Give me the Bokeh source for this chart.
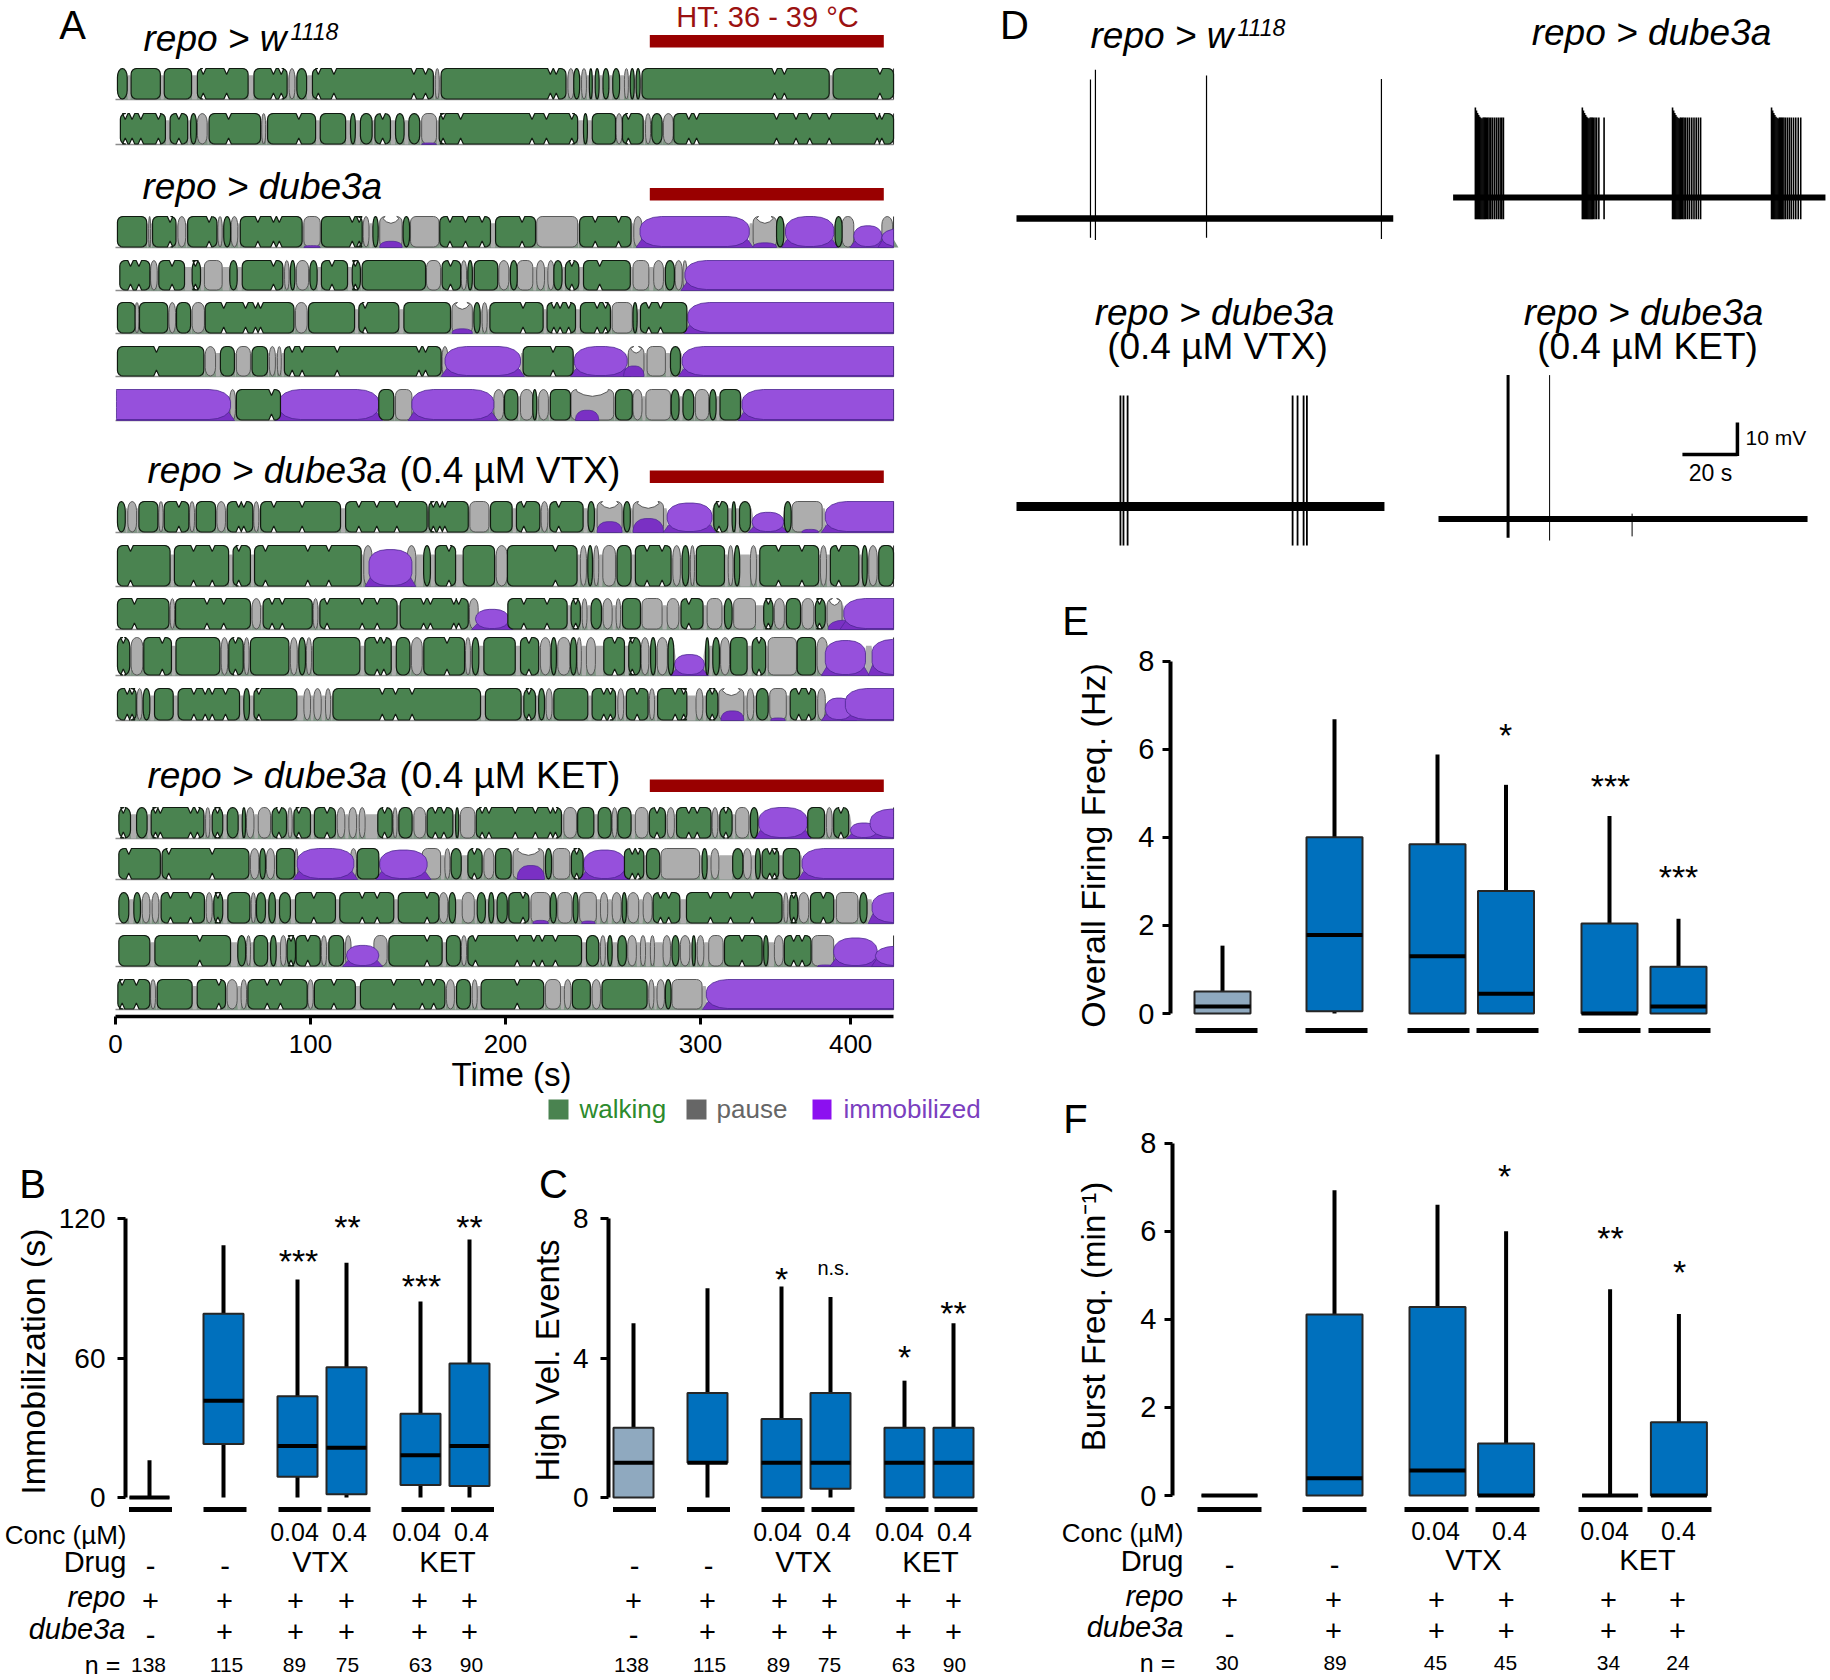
from math import pi, sin, cos
from bokeh.plotting import figure
from bokeh.layouts import row, column
from bokeh.models import Label, Range1d, FixedTicker, BoxAnnotation, LinearAxis
from bokeh.embed import file_html
from bokeh.resources import INLINE

FONT = "Liberation Sans"

# ---------------------------------------------------------------- panel A data (seconds)
# walking bouts: (start, end, [pinch times])
walk_01 = [(1,6,[]),(8,23,[]),(25,39,[]),(42,68,[45,57]),(71,88,[81,85]),(93,98,[]),(101,163,[104,112,153,159]),(167,231,[223,226]),(235,238,[]),(243,244.5,[]),(246,248,[]),(250,253,[]),(255,258.5,[]),(264,266,[]),(267,269,[]),(270,366,[338,343]),(368,399,[392])]
pause_01 = [(89,92),(164,166),(232,235),(239,241.5),(261,263)]
immob_01 = []
walk_02 = [(2.5,25.6,[5,8.5,13,22]),(28,37,[32.5]),(38.5,41.5,[]),(48,74.4,[58]),(78,102.6,[94]),(105,118,[]),(120.5,123,[]),(125.6,131.6,[]),(133,141,[137]),(143.6,148,[]),(150.4,156,[]),(166,237,[168,177,213.6,221,234]),(240,242,[]),(244.5,256.4,[]),(260,270.6,[263]),(275,280.3,[]),(286.3,399,[294,298,339,349,356,366,390.6,393])]
pause_02 = [(42,47),(75,77),(157,164.6),(256.7,259.8),(271.8,274.4),(281,286)]
immob_02 = [(157,164.6,0.05)]
walk_03 = [(1,16,[]),(19,31,[28]),(37,52,[48]),(55.5,59,[]),(64,95.7,[73,81,84]),(105.6,126.5,[121.4,125]),(132,134.7,[]),(147.5,150.8,[]),(166.3,192.3,[171.5,179.5,188]),(194.9,215.4,[208.5]),(238,264.4,[246,258]),(339,342.7,[]),(369,372.6,[])]
pause_03 = [(17,18),(32,36),(52.5,54.7),(59.3,62.7),(96.6,105),(127,130),(135.5,147),(151.3,165.9),(216,237),(265.8,270),(327,339),(372.6,378.6),(393,398.5)]
immob_03 = [(96.6,105,0.06),(135.5,147,0.2),(269,325,1),(327,339,0.15),(343.6,368.4,1),(378.6,393,0.7),(393,398.5,0.6)]
walk_04 = [(2.2,17.6,[7.7,12]),(22.2,35.4,[29]),(39.3,43.6,[41]),(58.6,62.4,[]),(65,85.8,[81]),(89.7,92,[]),(99.7,103.4,[]),(105.6,119,[111]),(121.4,125.6,[123]),(126.5,159,[]),(167.5,177,[171.8]),(180.7,183,[]),(184,196,[]),(202.5,206,[]),(224.8,229,[]),(230.7,237.6,[234]),(240,264,[248.3]),(282,286.6,[])]
pause_04 = [(18,21.4),(45.6,54.7),(86.7,89),(92.8,99),(159.5,166.7),(177.3,180),(196.6,201.7),(206,214),(216,220),(221.7,224.8),(265.4,273.5),(276,281),(287,290.6),(291,293)]
immob_04 = [(292,399,1)]
walk_05 = [(1,10,[]),(12.3,26.8,[]),(31.3,38.5,[]),(46,91.5,[55.5,66.7,71.8,74.4]),(99,122.6,[]),(124.8,145.3,[128]),(147.9,171.8,[]),(183.8,187,[]),(192,219.3,[209]),(221.3,235.9,[224.8,228,232.4]),(238.4,253.8,[247,251.3]),(265.4,267.5,[]),(269.2,293,[273.5,279.5])]
pause_05 = [(10,12),(27.4,30.8),(39.3,45.6),(92.3,98.3),(172.6,183),(188,190.6),(254.7,265)]
immob_05 = [(172.6,183,0.15),(293.5,399,1)]
walk_06 = [(1,45.3,[21]),(53.8,61,[]),(70,78,[]),(86.6,167,[90.6,95.7,113.7,155.6,159]),(209,234.7,[224.4]),(284.6,289.7,[])]
pause_06 = [(46,51.3),(62,69.2),(78.9,82),(83,85),(167.5,170.4),(263,271),(272.6,282)]
immob_06 = [(169,207.7,1),(235.3,262.4,1),(260.6,271,0.35),(290.6,399,1)]
walk_07 = [(62,84.6,[80]),(135,142.7,[]),(199.5,206.3,[]),(214,216,[]),(223,233.3,[]),(256.4,265,[]),(285,289,[]),(291,296.5,[]),(304.7,308,[]),(310,320.5,[])]
pause_07 = [(58.6,61.5),(143.6,152),(194,199),(207.7,214),(217,222),(233.6,255.5),(265.4,270),(272,284.6),(297.4,304.2)]
immob_07 = [(1,59,1),(83.8,135,1),(152,194,1),(235.9,247.8,0.33),(321.3,399,1)]
walk_08 = [(1,5,[]),(12,21.7,[]),(25,37.6,[32.5]),(41.4,51.3,[]),(57.3,70.4,[63.2,65.8]),(74.4,115.4,[81.2,95.7]),(118,159.8,[124.8,134,144.3]),(160.7,180.9,[163,166.3,168.9]),(192.3,203.4,[]),(205.6,217.6,[209.4]),(222.7,239.8,[227.3]),(242.3,245.6,[]),(260.6,264,[]),(306.8,314,[309.5]),(316.2,318,[]),(320,325.6,[]),(343,346.5,[])]
pause_08 = [(6.3,10.8),(22.2,24.4),(38,40.5),(52,56.4),(70.9,73.5),(181.7,191.5),(218.3,221.7),(247,259.8),(265.4,281),(347,362.4)]
immob_08 = [(247,259.8,0.35),(265.4,281,0.45),(282.9,305.9,0.95),(326.5,342.7,0.65),(352,360.5,0.1),(364,399,1)]
walk_09 = [(1,28,[7.7]),(30.2,58,[40,49.6]),(60.3,69.2,[63.2]),(71.3,126,[76.9,98.6,109.4]),(158,161.5,[]),(164,174.4,[171]),(178.3,194.4,[]),(201,236.7,[225.6]),(242.2,244.6,[]),(257.2,264.4,[]),(266.6,284.9,[272.6,280.3]),(290.6,294,[]),(297.9,312.3,[]),(317.4,320.1,[]),(330.4,360.6,[340,352]),(366.6,381.2,[370.9]),(382.9,385.5,[]),(391.4,399,[])]
pause_09 = [(127.3,131.6),(149.6,154),(195.2,200.9),(238.4,241.5),(245.3,247.8),(249.9,256.4),(285.8,289.7),(294.8,296.9),(314.2,316.7),(325.6,328.7),(361.5,364.6),(386.3,390.6)]
immob_09 = [(130,152,0.9)]
walk_10 = [(1,27.4,[9.7]),(30.8,69.2,[46.9,55.5]),(75.7,100.9,[80.3,85.5]),(104.8,144.4,[108.5,126.5,134.2]),(146,180.9,[158,161.5,173.5,176]),(201.2,231.6,[209.4,221.3]),(233.6,238.4,[236]),(243.9,249.2,[]),(260,269.2,[]),(290,301.3,[294]),(312.3,316.2,[]),(332.4,337.2,[334.8]),(344,351.3,[]),(358.9,364,[361])]
pause_10 = [(28,30.3),(70,74.4),(101.4,103.8),(181.5,186),(239.3,241.8),(250,254.7),(256.7,259),(270,280.3),(282.9,288.9),(303.4,311),(317,328.2),(337.9,343),(352,358.1),(364.9,372.6)]
immob_10 = [(184.6,201.7,0.65),(365.5,385,0.3),(373.5,399,1)]
walk_11 = [(1,7.3,[4]),(14.5,28.7,[24]),(31,53.5,[]),(58.1,65.5,[61.5]),(69.2,88.9,[]),(94,97.4,[]),(101.4,125.3,[]),(127.9,141.4,[134.2,137.6]),(144,151,[]),(158.1,179,[170]),(182.9,186.3,[]),(188.9,205,[]),(207.7,217,[212]),(223.4,226.1,[]),(233.3,236.4,[]),(250.4,261,[256]),(263.2,269.2,[265]),(274.4,277,[]),(283.4,286.3,[]),(302.6,304.3,[]),(306.3,309.7,[]),(315.4,323.9,[]),(326.5,333.4,[330]),(349.6,359,[])]
pause_11 = [(8,14),(54.2,57.6),(66,68.5),(89.7,93.2),(97.9,100.5),(151.8,157.3),(179.5,182),(217.9,223),(226.8,233),(236.7,238.9),(241.5,246.1),(269.6,273.5),(277.8,283),(310.3,314.9),(334.7,349.2),(359.8,365)]
immob_11 = [(286.7,302,0.55),(364,384.6,0.92),(388,399,0.95)]
walk_12 = [(1,10.6,[6,8.5]),(14.2,17.6,[]),(20,29.6,[]),(32.1,63.6,[40.2,46,49.6,56.4]),(65.8,68.7,[]),(71,93,[73.5]),(111.5,187.2,[136.8,143.6,152.1]),(189.7,208,[]),(209.4,215.4,[212]),(217,220,[]),(224.8,242.2,[]),(244.4,256.4,[250.4,253.8]),(262,273.1,[267.5]),(278,293,[287,291.4]),(303,308.9,[306]),(328.7,334.7,[]),(346,359,[350.4,355.5])]
pause_12 = [(11,13.7),(96.6,100),(101.7,105.5),(107.7,110.3),(220.8,223.9),(257.6,260.6),(273.8,276.4),(297.7,301.2),(309.4,322.2),(323.9,327.3),(335.5,344),(360.1,364)]
immob_12 = [(310.5,322.2,0.3),(336,343.5,0.08),(364,378,0.7),(374.3,399,1)]
walk_13 = [(1.7,7.7,[4]),(10.8,16.2,[]),(18.3,45.3,[20.5,23,38.5,42]),(49.6,55,[52.3]),(57.3,62.9,[]),(65,66.7,[]),(80.3,87.7,[83.8]),(91.5,100,[94]),(102,112.8,[108.5]),(134.5,141.9,[138]),(145.3,152.1,[]),(159.8,173,[164,168.4]),(174.4,176,[]),(185,228.7,[188,191.5,205,215.3,223,225.6]),(237,245.3,[]),(247.5,254.2,[]),(257.6,264.4,[]),(273.8,282,[277.7]),(287.7,305.4,[294,298.3]),(309.9,316.2,[313]),(325.6,329.4,[]),(355,363.6,[]),(368.3,376,[372])]
pause_13 = [(46.2,48.4),(67.2,71),(73.2,79.5),(88.4,90.6),(113.7,117.6),(119.7,123.6),(125,128),(142.4,144.4),(153,159),(176.9,184.3),(229.9,236.4),(254.7,257.2),(266.6,273.1),(282.9,286.6),(306,308.9),(318,324.8),(364.6,367.5)]
immob_13 = [(329.9,354.7,1),(376.9,390.6,0.5),(387,399,0.95)]
walk_14 = [(1.7,23,[6.8]),(23.9,68.4,[27.3,49.6]),(74,76.9,[]),(82.6,91.8,[]),(124,135,[]),(172.1,177.3,[]),(180.7,188,[184]),(194.9,202.9,[]),(220.5,223.6,[]),(233.8,239.8,[236.5]),(261,270.9,[265,268]),(272.3,279.1,[]),(300.8,303.4,[]),(316.5,321.7,[]),(328.2,330.7,[]),(331.6,340.1,[335.5,338]),(342.4,350.9,[])]
pause_14 = [(69.2,73.5),(77.4,81.5),(92,93.5),(120.5,123.6),(157.3,166.7),(168.9,171.5),(188.9,194),(203.9,219.6),(224.4,233),(279.8,299.5),(305.4,309.4),(322,326)]
immob_14 = [(93.2,122.2,1),(135.5,159.8,0.95),(206,220,0.45),(240.1,261.5,0.95),(352.1,399,1)]
walk_15 = [(1.7,6.8,[]),(9.4,12.8,[]),(23.4,45.6,[28.2,38.5]),(50.4,55,[52.5]),(57.6,68.9,[]),(72.3,76.9,[]),(78.6,82,[]),(84.1,89.7,[]),(92.3,112.8,[101.7]),(115,142.7,[126.5,134.2]),(145,165.8,[159.8]),(171,174.4,[]),(185.5,189.7,[]),(191.4,194,[]),(195.7,200.9,[]),(201.7,212,[209]),(223,226.1,[]),(234.7,237.2,[]),(259.8,262,[]),(275.7,289.4,[279.5,283.7]),(292.8,341.8,[305.1,315.4,326.5]),(345.8,349.9,[347.8]),(356.4,368.3,[363]),(381.7,385.4,[])]
pause_15 = [(13.7,17.6),(18.8,22.2),(46.5,49.6),(69.6,71.8),(166,170.4),(177.8,184),(213.1,222.7),(226.8,234.1),(238,246.6),(248.7,252.4),(254.7,259.3),(262.7,268.3),(270.6,275.2),(342.7,344.8),(350.4,355.5),(369.7,380.7)]
immob_15 = [(214,222,0.1),(239,246,0.08),(388,399,1)]
walk_16 = [(1.7,17.6,[]),(20.2,59,[43.2]),(62.7,66.7,[]),(71,78,[]),(79.5,82.4,[]),(88,92.3,[90]),(92.6,105,[98.6]),(109.4,117,[]),(140.2,167.5,[159.8]),(169.7,176.9,[]),(180.7,239,[184.6,206,214.5,218.8,225.6]),(241.5,247.8,[]),(252.4,254.7,[]),(257.6,262,[]),(285.4,288.9,[]),(295.7,297.4,[]),(312.3,331.6,[321.3]),(332.4,334.7,[]),(343,356.7,[347.8,352.1])]
pause_16 = [(67.2,69.2),(84.6,87.5),(105.6,108.2),(117.9,120.8),(132.5,139.3),(177.4,180),(248.7,251.2),(262.7,267.1),(269.2,271.8),(274.3,276.4),(280.8,284.6),(289.7,294.5),(298.3,301.7),(304.2,311.6),(337.9,342.4),(357.2,368.3)]
immob_16 = [(118.5,135,0.68),(360,368,0.05),(368.3,390.6,0.92),(389.7,399,0.65)]
walk_17 = [(1.2,17.6,[3.4,10.7]),(21.4,39.3,[]),(41.9,56.4,[53]),(67.9,98.3,[77.8,84.6]),(102,123,[112]),(125.6,168.9,[142.7,157.3,163.2]),(174.9,182,[]),(187.5,219.6,[206]),(234.3,243.5,[]),(249.5,272.6,[]),(282,284.9,[])]
pause_17 = [(18,20.5),(57.2,62.4),(64.4,67.2),(98.6,101.4),(169.7,173.8),(182.9,185.5),(220.5,228.2),(230.2,233.6),(244.4,248.7),(273.5,276.1),(277.7,281.5),(285.4,300.8)]
immob_17 = [(303,399,1)]

walks = [walk_01,walk_02,walk_03,walk_04,walk_05,walk_06,walk_07,walk_08,walk_09,walk_10,walk_11,walk_12,walk_13,walk_14,walk_15,walk_16,walk_17]
pauses = [pause_01,pause_02,pause_03,pause_04,pause_05,pause_06,pause_07,pause_08,pause_09,pause_10,pause_11,pause_12,pause_13,pause_14,pause_15,pause_16,pause_17]
immobs = [immob_01,immob_02,immob_03,immob_04,immob_05,immob_06,immob_07,immob_08,immob_09,immob_10,immob_11,immob_12,immob_13,immob_14,immob_15,immob_16,immob_17]
heat_window = (274, 394)
time_ticks = [0, 100, 200, 300, 377]
time_tick_labels = {377: "400"}

# ---------------------------------------------------------------- box data
B_low = [0, 0, 0, 0, 0, 0]
B_q1 = [0, 23, 8.9, 1.4, 5.4, 5]
B_med = [0, 41.6, 22.2, 21.4, 18.2, 22.2]
B_q3 = [0, 79, 43.6, 56, 36, 57.6]
B_high = [16, 108.5, 93.8, 101, 84.3, 111]
B_n = ["138", "115", "89", "75", "63", "90"]

C_low = [0, 0, 0, 0, 0, 0]
C_q1 = [0, 1, 0, 0.25, 0, 0]
C_med = [1, 1, 1, 1, 1, 1]
C_q3 = [2, 3, 2.25, 3, 2, 2]
C_high = [5, 6, 6.05, 5.75, 3.35, 5]

E_low = [0, 0, 0, 0, 0, 0]
E_q1 = [0, 0.05, 0, 0, 0, 0]
E_med = [0.16, 1.78, 1.3, 0.45, 0, 0.16]
E_q3 = [0.5, 4.0, 3.84, 2.78, 2.04, 1.06]
E_high = [1.54, 6.68, 5.88, 5.19, 4.48, 2.15]

F_low = [0, 0, 0, 0, 0, 0]
F_q1 = [0, 0, 0, 0, 0, 0]
F_med = [0, 0.39, 0.57, 0, 0, 0]
F_q3 = [0, 4.11, 4.28, 1.18, 0, 1.66]
F_high = [0, 6.93, 6.6, 6, 4.68, 4.12]
F_n = ["30", "89", "45", "45", "34", "24"]

conc_vals = ["0.04", "0.4", "0.04", "0.4"]
drug_vals = ["VTX", "KET"]

# ---------------------------------------------------------------- trace data (s, mV)
d1_spikes = [26.9, 28.7, 69.1, 132.7]
d1_top = [43.4, 46.5, 44.7, 43.6]
d1_bot = [-6, -6.7, -6, -6.4]
d2_burst1 = [8.1,8.5,8.9,9.3,9.7,10.1,10.5,10.9,11.3,11.7,12.1,12.6,13.1,13.7,14.3,15,15.7,16.4,17.1,17.7,18.3]
d2_burst2 = [47,47.4,47.8,48.2,48.6,49,49.4,49.8,50.2,50.6,51,51.6,52.2,53,54.9]
d2_burst3 = [79.8,80.2,80.6,81,81.4,81.8,82.2,82.6,83,83.5,84,84.6,85.3,86,86.8,87.6,88.4,89.2,90]
d2_burst4 = [115.8,116.2,116.6,117,117.4,117.8,118.2,118.6,119,119.4,119.8,120.3,120.9,121.6,122.3,123,123.8,124.6,125.5,126.4]
d2_burst_top = [28.1, 27.2, 26.4, 25.8, 25.2, 24.9, 24.7]
d2_rest_top = 25
d2_bot = -6.8
d3_spikes = [37.8, 38.9, 40.4, 100.4, 102.2, 104.4, 105.6]
d3_top, d3_bot = 34.7, -12.2
d4_spikes = [25.3, 40.4, 70.4]
d4_top = [45, 45, 1.7]
d4_bot = [-5.8, -6.7, -5.4]
d4_width = [3, 1, 1]

# ---------------------------------------------------------------- helpers
class Panel:
    def __init__(self, rect, x_zero, x_scale, y_zero, y_scale):
        x0, y0, x1, y1 = rect
        self.xz, self.xs, self.yz, self.ys = x_zero, x_scale, y_zero, y_scale
        self.fig = figure(width=x1-x0, height=y1-y0, output_backend="svg", toolbar_location=None,
                          x_range=Range1d(self.fx(x0), self.fx(x1)),
                          y_range=Range1d(self.fy(y1), self.fy(y0)),
                          x_axis_location=None, y_axis_location=None,
                          min_border_left=0, min_border_right=0, min_border_top=0,
                          min_border_bottom=0, outline_line_color=None, tools="")
        self.fig.grid.visible = False
    def fx(self, px): return (px - self.xz) / self.xs
    def fy(self, py): return (self.yz - py) / self.ys
    def text(self, px, py, s, size=25, align="center", color="black", style="normal", angle=0):
        shift = 0 if angle else -2
        self.fig.add_layout(Label(x=self.fx(px), y=self.fy(py + shift), text=s, text_font=FONT,
                                  text_font_size=f"{size}px", text_align=align, text_baseline="middle",
                                  text_color=color, text_font_style=style, angle=angle))
    def star(self, px, py, s):
        self.text(px, py + 5, s, size=34)

def style_axis(ax, size, standoff, lw=4):
    ax.axis_line_width = lw
    ax.major_tick_line_width = 3
    ax.major_tick_out = 8
    ax.major_tick_in = 0
    ax.minor_tick_line_color = None
    ax.major_label_text_font = FONT
    ax.major_label_text_font_size = f"{size}px"
    ax.major_label_standoff = standoff
    ax.major_label_text_color = "black"

def y_axis(p, at_px, ticks, size=28, standoff=12):
    ax = LinearAxis(ticker=FixedTicker(ticks=ticks), bounds=(min(ticks), max(ticks)), fixed_location=p.fx(at_px))
    style_axis(ax, size, standoff)
    p.fig.add_layout(ax, "left")

def boxes(p, centers, w, low, q1, med, q3, high, fills, bars, bar_w, bar_y):
    f = p.fig
    f.segment(x0=centers, x1=centers, y0=low, y1=high, line_color="black", line_width=4)
    f.vbar(x=centers, width=w, bottom=q1, top=q3, fill_color=fills, line_color="#262626", line_width=2)
    f.segment(x0=[c-w/2 for c in centers], x1=[c+w/2 for c in centers], y0=med, y1=med, line_color="black", line_width=4)
    by = p.fy(bar_y)
    f.segment(x0=[c-bar_w/2 for c in bars], x1=[c+bar_w/2 for c in bars], y0=[by]*6, y1=[by]*6, line_color="black", line_width=5)

def table(p, conc_x, conc_y, drug_x, drug_y, dash_x, dash_y, plus1_x, plus1_y, plus2_x, plus2_y, dash2_y, n_x, n_y, n_vals):
    for x, s in zip(conc_x, conc_vals):
        p.text(x, conc_y - 1, s, 25)
    for x, s in zip(drug_x, drug_vals):
        p.text(x, drug_y - 1, s, 29)
    for x in dash_x:
        p.text(x, dash_y - 1, "-", 29)
    for x in plus1_x:
        p.text(x, plus1_y - 1, "+", 29)
    for x in plus2_x[1:]:
        p.text(x, plus2_y - 1, "+", 29)
    p.text(plus2_x[0], dash2_y - 1, "-", 29)
    for x, s in zip(n_x, n_vals):
        p.text(x, n_y - 1, s, 21)

WALK, WALK_EDGE = "#4a8350", "#101a10"
GRAY, GRAY_EDGE = "#adadad", "#4d4d4d"
BASE = "#7f9683"
PL, PD, PE = "#9650dc", "#7a30c4", "#4b2490"
RX, RY = 2.8, 5.5
NW, ND = 1.4, 6.0

def corner(cx, cy, rx, ry, a0, a1, n=4):
    return [(cx + rx*cos(a0 + (a1-a0)*i/n), cy + ry*sin(a0 + (a1-a0)*i/n)) for i in range(n+1)]

def block(s, e, top, bot, notches=(), rx=RX, ry=None, dip=0):
    w = e - s; H = bot - top
    if ry is None:
        ry = RY if w >= 9 else max(RY, H*0.42*(1 - w/9) + RY*(w/9))
    rx = min(rx, w/2); ry = min(ry, H/2)
    pts = corner(s+rx, top+ry, rx, ry, pi, 1.5*pi)
    if dip:
        pts += [(s+w*0.14, top+dip*0.3), (s+w*0.3, top+dip*0.78), (s+w*0.5, top+dip),
                (e-w*0.3, top+dip*0.78), (e-w*0.14, top+dip*0.3)]
    for n in notches:
        pts += [(n-NW, top), (n, top+ND), (n+NW, top)]
    pts += corner(e-rx, top+ry, rx, ry, 1.5*pi, 2*pi)
    pts += corner(e-rx, bot-ry, rx, ry, 0, 0.5*pi)
    for n in reversed(list(notches)):
        pts += [(n+NW, bot), (n, bot-ND), (n-NW, bot)]
    pts += corner(s+rx, bot-ry, rx, ry, 0.5*pi, pi)
    return [q[0] for q in pts], [q[1] for q in pts]

def dome(s, e, top, bot):
    w = e - s
    rx = w*0.4; ry = (bot-top)*0.85
    pts = [(s, bot)] + corner(s+rx, top+ry, rx, ry, pi, 1.5*pi) + corner(e-rx, top+ry, rx, ry, 1.5*pi, 2*pi) + [(e, bot)]
    return [q[0] for q in pts], [q[1] for q in pts]

def clamp(xs, lo=0.5, hi=399):
    return [min(max(x, lo), hi) for x in xs]

def add_patches(f, shapes, fill, edge, lw):
    if shapes:
        f.patches(xs=[a for a, b in shapes], ys=[b for a, b in shapes], fill_color=fill, line_color=edge, line_width=lw)

# ---------------------------------------------------------------- panel A
A_ = Panel((0, 0, 990, 1150), 115, 1.95, 0, -1)
track_top = [68,113,216,260,302,346,389,501,545,598,637,688,807,848,892,935,979]
track_bot = [99,144,247,290,333,376,420,532,586,629,675,720,838,879,923,966,1009]

base_sh, gray_sh, neck_sh, dark_sh, light_sh, green_sh = [], [], [], [], [], []
f = A_.fig
for W, G, P, top, bot in zip(walks, pauses, immobs, track_top, track_bot):
    H = bot - top
    f.segment(x0=[0], x1=[399], y0=[bot], y1=[bot], line_color="#8c8c8c", line_width=1.6)
    f.segment(x0=[399], x1=[399], y0=[top], y1=[bot], line_color="#333333", line_width=1)
    spans = sorted([(a, b) for a, b, *_ in W] + [(a, b) for a, b in G] + [(a, b) for a, b, h in P if h >= 0.5])
    reach = spans[0][1]
    for a, b in spans[1:]:
        if a > reach:
            neck_sh.append(([reach-0.5, reach+0.3, a-0.3, a+0.5, a-0.3, reach+0.3],
                            [top+H*0.5, top+H*0.22, top+H*0.22, top+H*0.5, bot, bot]))
            base_sh.append(([reach-2, (reach+a)/2, a+2], [bot, bot-H*0.4, bot]))
        reach = max(reach, b)
    for a, b in G:
        base_sh.append(([a-3, a, b, b+3], [bot, bot-H*0.32, bot-H*0.32, bot]))
        dip = 0
        for pa, pb, h in P:
            if 0.12 <= h < 0.5 and pa < b and pb > a:
                dip = H * 0.22
        gray_sh.append(block(a, b, top, bot-0.5, dip=dip))
    for a, b, h in P:
        w = b - a
        t = bot - h*H
        if h < 0.5:
            dark_sh.append(dome(a, b, t, bot))
        else:
            dark_sh.append((clamp([a-2, a+min(4, w*0.2), b-min(4, w*0.2), b+2]), [bot, t+(bot-t)*0.45, t+(bot-t)*0.45, bot]))
            a2 = a - 14 if a <= 1.5 else a
            b2 = b + 14 if b >= 398.5 else b
            xs, ys = block(a2, b2, t, bot-1, rx=min(11, (b2-a2)*0.42), ry=min(12, (bot-t)*0.45))
            light_sh.append((clamp(xs), ys))
    for a, b, n in W:
        green_sh.append(block(a, b, top, bot-0.5, n))
add_patches(f, base_sh, BASE, None, 0)
add_patches(f, neck_sh, GRAY, None, 0)
add_patches(f, gray_sh, GRAY, GRAY_EDGE, 0.9)
add_patches(f, dark_sh, PD, PE, 0.7)
add_patches(f, light_sh, PL, PE, 0.8)
add_patches(f, green_sh, WALK, WALK_EDGE, 1.2)

ha_top = [34.5, 187.5, 470, 779]
f.quad(left=[heat_window[0]]*4, right=[heat_window[1]]*4, top=ha_top, bottom=[t+12.5 for t in ha_top],
       fill_color="#990000", line_color=None)

axis = LinearAxis(ticker=FixedTicker(ticks=time_ticks), major_label_overrides=time_tick_labels,
                  bounds=(0, 399), fixed_location=1016)
style_axis(axis, 26, 10, lw=3.5)
f.add_layout(axis, "below")

A_.text(511, 1076, "Time (s)", 33)
A_.text(72, 26, "A", 40)
A_.text(767, 18, "HT: 36 - 39 °C", 29, color="#9b1111")
A_.text(143, 40, "repo > w", 37, "left", style="italic")
A_.text(290, 33, "1118", 23, "left", style="italic")
A_.text(142, 188, "repo > dube3a", 37, "left", style="italic")
A_.text(147, 472, "repo > dube3a", 37, "left", style="italic")
A_.text(399, 472, "(0.4 µM VTX)", 37, "left")
A_.text(147, 777, "repo > dube3a", 37, "left", style="italic")
A_.text(399, 777, "(0.4 µM KET)", 37, "left")
for l, r, c in [(548, 568, "#4a8350"), (686, 706, "#666666"), (812, 831, "#8c10f0")]:
    f.add_layout(BoxAnnotation(left=A_.fx(l), right=A_.fx(r), bottom=1119, top=1099, fill_color=c, fill_alpha=1, line_color=None))
A_.text(579, 1110, "walking", 26, "left", color="#2d8b2d")
A_.text(716, 1110, "pause", 26, "left", color="#666666")
A_.text(843, 1110, "immobilized", 26, "left", color="#7b3fbf")

BLUE, PALE = "#0070bd", "#8fa9bf"
# B
B_ = Panel((0, 1150, 530, 1680), 0, 1, 1497, 2.325)
y_axis(B_, 125, [0, 60, 120])
boxes(B_, [149, 223, 297, 346, 420, 469], 40, B_low, B_q1, B_med, B_q3, B_high, [BLUE]*6,
      [150, 224.5, 299.5, 348.5, 422.5, 472], 43, 1509)
B_.text(32, 1185, "B", 40)
B_.text(32, 1361, "Immobilization (s)", 34, angle=pi/2)
for x, y, s in [(298, 1257, "***"), (347, 1223, "**"), (421, 1282, "***"), (469, 1223, "**")]:
    B_.star(x, y, s)
B_.text(126, 1536, "Conc (µM)", 26, "right")
B_.text(126, 1563, "Drug", 29, "right")
B_.text(125, 1598, "repo", 29, "right", style="italic")
B_.text(125, 1630, "dube3a", 29, "right", style="italic")
B_.text(102, 1666, "n =", 25)
table(B_, [294, 349, 416, 471], 1534, [320, 447], 1564, [150, 224.7], 1568,
      [150, 224, 295, 346, 419, 469], 1603, [150, 224, 295, 346, 419, 469], 1634, 1637,
      [148, 226, 294, 347, 420, 471], 1667, B_n)
# C
C_ = Panel((530, 1150, 990, 1680), 0, 1, 1497, 34.875)
y_axis(C_, 608, [0, 4, 8])
boxes(C_, [633, 707, 781, 830, 904, 953], 40, C_low, C_q1, C_med, C_q3, C_high, [PALE]+[BLUE]*5,
      [634, 708, 782.5, 832.5, 906.5, 955.5], 43, 1509)
C_.text(553, 1185, "C", 40)
C_.text(547, 1360, "High Vel. Events", 33, angle=pi/2)
C_.star(781, 1275, "*"); C_.star(904, 1353, "*"); C_.star(953, 1309, "**")
C_.text(833, 1269, "n.s.", 20)
table(C_, [777, 833, 899, 954], 1534, [803, 930], 1564, [634, 708], 1568,
      [633, 707, 779, 829, 903, 953], 1603, [633, 707, 779, 829, 903, 953], 1634, 1637,
      [631, 709, 778, 829, 903, 954], 1667, B_n)

# D
def trace_fig(rect, x0, base, t_end, lw):
    p = Panel(rect, x0, 2.75, base, 3.2)
    p.fig.segment(x0=[0], x1=[t_end], y0=[0], y1=[0], line_color="black", line_width=lw)
    return p
D1 = trace_fig((990, 0, 1430, 270), 1016, 218, 137, 6.5)
D1.fig.segment(x0=d1_spikes, x1=d1_spikes, y0=d1_bot, y1=d1_top, line_color="black", line_width=1.2)
D1.text(1014, 26, "D", 40)
D1.text(1090, 37, "repo > w", 37, "left", style="italic")
D1.text(1237, 29, "1118", 23, "left", style="italic")
D2 = trace_fig((1430, 0, 1830, 270), 1452.6, 197, 135.4, 6)
for burst in (d2_burst1, d2_burst2, d2_burst3, d2_burst4):
    tops = [d2_burst_top[i] if i < len(d2_burst_top) else d2_rest_top for i in range(len(burst))]
    D2.fig.segment(x0=burst, x1=burst, y0=[d2_bot]*len(burst), y1=tops, line_color="black", line_width=1.6)
D2.text(1651, 34, "repo > dube3a", 37, style="italic")
D3 = trace_fig((990, 270, 1430, 590), 1016, 506, 133.8, 9)
D3.fig.segment(x0=d3_spikes, x1=d3_spikes, y0=[d3_bot]*7, y1=[d3_top]*7, line_color="black", line_width=1.8)
D3.text(1214, 314, "repo > dube3a", 37, style="italic")
D3.text(1217, 348, "(0.4 µM VTX)", 37)
D4 = trace_fig((1430, 270, 1830, 590), 1438, 518.6, 134.2, 6)
D4.fig.segment(x0=d4_spikes, x1=d4_spikes, y0=d4_bot, y1=d4_top, line_color="black", line_width=d4_width)
D4.fig.segment(x0=[88.7, 108.7], x1=[108.7, 108.7], y0=[20.2, 19.7], y1=[20.2, 30.2], line_color="black", line_width=3.5)
D4.text(1643, 314, "repo > dube3a", 37, style="italic")
D4.text(1647, 348, "(0.4 µM KET)", 37)
D4.text(1745, 439, "10 mV", 21, "left")
D4.text(1710, 474, "20 s", 23)

# E
EX = [1222, 1334, 1437, 1505.5, 1609, 1678]
BX = [1229, 1334, 1436, 1507, 1610, 1679]
E_ = Panel((990, 590, 1830, 1095), 0, 1, 1013, 44.06)
y_axis(E_, 1170, [0, 2, 4, 6, 8], size=29, standoff=8)
boxes(E_, EX, 56, E_low, E_q1, E_med, E_q3, E_high, [PALE]+[BLUE]*5,
      [1226, 1336, 1438, 1507, 1609, 1679], 62, 1030)
E_.text(1075, 622, "E", 40)
E_.text(1092, 845, "Overall Firing Freq. (Hz)", 34, angle=pi/2)
E_.star(1505, 731, "*"); E_.star(1610, 782, "***"); E_.star(1678, 873, "***")

# F
F_ = Panel((990, 1095, 1830, 1680), 0, 1, 1495, 44.06)
y_axis(F_, 1172, [0, 2, 4, 6, 8], size=29, standoff=8)
boxes(F_, [1229, 1334, 1437, 1505.6, 1609.6, 1678.4], 56, F_low, F_q1, F_med, F_q3, F_high, [BLUE]*6,
      BX, 64, 1509)
F_.text(1075, 1120, "F", 40)
F_.text(1093, 1316, "Burst Freq. (min⁻¹)", 33, angle=pi/2)
F_.star(1504, 1172, "*"); F_.star(1610, 1234, "**"); F_.star(1679, 1268, "*")
F_.text(1183, 1534, "Conc (µM)", 26, "right")
F_.text(1183, 1562, "Drug", 29, "right")
F_.text(1183, 1597, "repo", 29, "right", style="italic")
F_.text(1183, 1628, "dube3a", 29, "right", style="italic")
F_.text(1157, 1664, "n =", 25)
table(F_, [1435, 1509, 1604, 1678], 1533, [1473, 1647], 1562, [1229, 1334], 1567,
      [1229, 1333, 1436, 1505.6, 1608, 1677], 1602, [1229, 1333, 1436, 1505.6, 1608, 1677], 1633, 1636,
      [1226.6, 1334.6, 1435, 1505, 1608, 1677.5], 1665, F_n)

page = row(column(A_.fig, row(B_.fig, C_.fig)),
           column(row(D1.fig, D2.fig), row(D3.fig, D4.fig), E_.fig, F_.fig))
open("out.html", "w").write(file_html(page, INLINE))
